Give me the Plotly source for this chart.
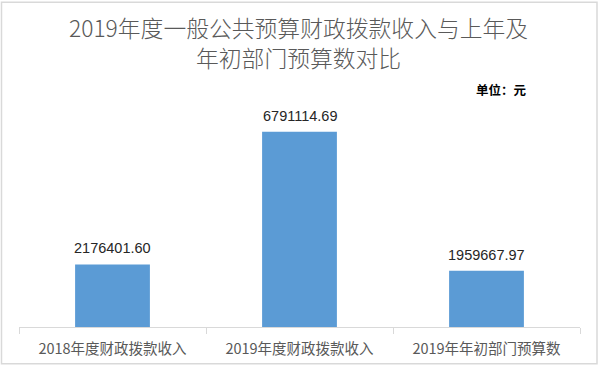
import plotly.graph_objects as go

categories = ["2018年度财政拨款收入", "2019年度财政拨款收入", "2019年年初部门预算数"]
values = [2176401.60, 6791114.69, 1959667.97]
title_text = "2019年度一般公共预算财政拨款收入与上年及<br>年初部门预算数对比"
unit_text = "单位：元"

W, H = 600, 370
L, R, T, B = 19, 20, 97, 41
PW, PH = W - L - R, H - T - B

def px_x(px):
    return (px - L) / PW

def px_y(py):
    return (H - B - py) / PH

CJK = "Noto Sans CJK SC, Liberation Sans, sans-serif"

fig = go.Figure()
fig.add_trace(go.Bar(
    x=categories, y=values,
    marker=dict(color="#5B9BD5", line=dict(width=0)),
    hoverinfo="skip",
))

for c, v in zip(categories, values):
    fig.add_annotation(
        x=c, y=v, text=f"{v:.2f}", showarrow=False,
        xref="x", yref="y", yanchor="bottom", yshift=6,
        font=dict(family="Liberation Sans, Arial, sans-serif", size=14.5, color="#262626"),
    )

fig.add_annotation(
    x=px_x(298.5), y=px_y(42), xref="paper", yref="paper",
    text=title_text, showarrow=False, xanchor="center", yanchor="middle",
    align="center",
    font=dict(family=CJK, size=22.8, color="#595959", weight=300),
)

fig.add_annotation(
    x=px_x(501), y=px_y(89), xref="paper", yref="paper",
    text="<b>" + unit_text + "</b>", showarrow=False,
    xanchor="center", yanchor="middle",
    font=dict(family=CJK, size=12.5, color="#000000"),
)

fig.add_shape(
    type="rect", xref="paper", yref="paper",
    x0=px_x(1.5), x1=px_x(597), y0=px_y(366), y1=px_y(1.5),
    line=dict(color="#D9D9D9", width=1.5), fillcolor="rgba(0,0,0,0)", layer="below",
)

fig.update_layout(
    width=W, height=H,
    margin=dict(l=L, r=R, t=T, b=B, pad=0),
    paper_bgcolor="white", plot_bgcolor="white",
    bargap=0.6,
    showlegend=False,
    xaxis=dict(
        type="category", showline=True, linecolor="#D9D9D9", linewidth=1,
        ticks="outside", tickson="boundaries", ticklen=6, tickcolor="#D9D9D9", tickwidth=1,
        ticklabelstandoff=9,
        tickfont=dict(family=CJK, size=14.5, color="#595959"),
        showgrid=False, zeroline=False, fixedrange=True,
    ),
    yaxis=dict(visible=False, range=[0, 8000000], fixedrange=True),
)

fig.write_html(
    "out.html",
    config={"displayModeBar": False},
    post_script="document.body.style.margin='0';document.body.style.padding='0';",
)
